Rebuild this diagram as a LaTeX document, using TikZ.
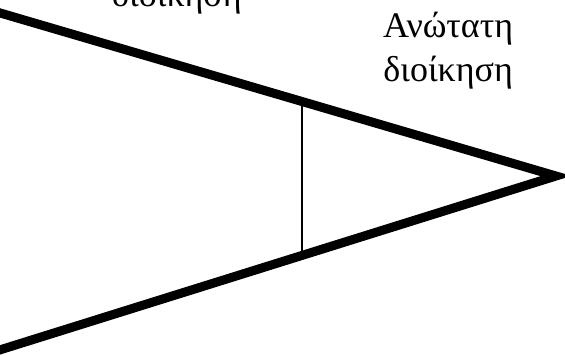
\documentclass[tikz,border=0pt]{standalone}
\usepackage{fontspec}
\setmainfont{Liberation Serif}
\usetikzlibrary{calc}
\tikzset{
  edgeline/.style={line width=9pt, line join=miter, miter limit=20},
  divline/.style={line width=1.8pt},
  label/.style={inner sep=0pt, font=\fontsize{36}{44}\selectfont}
}
\begin{document}
\begin{tikzpicture}[x=1pt,y=-1pt]
\useasboundingbox (0,0) rectangle (565,356);
\clip (0,0) rectangle (565,356);
\coordinate (tl) at (-10,10);
\coordinate (apex) at (556,176);
\coordinate (bl) at (-10,353);
\draw[edgeline] (tl) -- (apex) -- (bl);
\coordinate (dtop) at ($(tl)!{(302+10)/(556+10)}!(apex)$);
\coordinate (dbot) at ($(bl)!{(302+10)/(556+10)}!(apex)$);
\draw[divline] (dtop) -- (dbot);
\node[label, anchor=base west] (mid) at (112,6) {διοίκηση};
\node[label, anchor=north west, align=center] (top) at (383,12) {Ανώτατη\\διοίκηση};
\end{tikzpicture}
\end{document}
